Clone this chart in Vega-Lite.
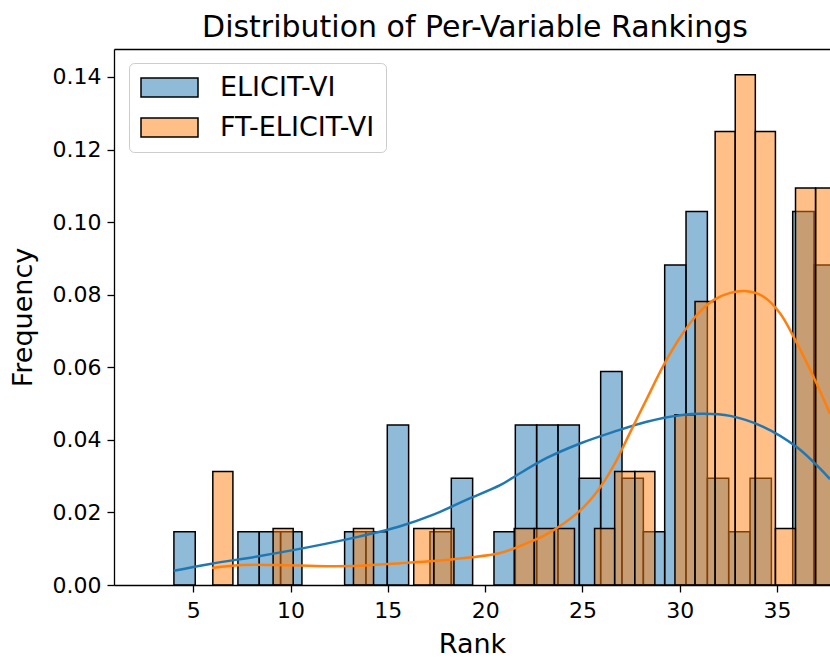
{
  "$schema": "https://vega.github.io/schema/vega-lite/v6.json",
  "width": 716,
  "height": 536,
  "autosize": {"type": "none"},
  "padding": {"left": 114, "top": 49, "right": 0, "bottom": 74},
  "background": "white",
  "title": {"text": "Distribution of Per-Variable Rankings", "font": "DejaVu Sans", "fontSize": 30, "fontWeight": "normal", "color": "black", "anchor": "middle", "dx": 3, "offset": 6},
  "datasets": {
    "bars": [
      {"series": "ELICIT-VI", "bin_start": 4.000, "bin_end": 5.097, "freq": 0.0147},
      {"series": "ELICIT-VI", "bin_start": 7.291, "bin_end": 8.388, "freq": 0.0147},
      {"series": "ELICIT-VI", "bin_start": 8.388, "bin_end": 9.485, "freq": 0.0147},
      {"series": "ELICIT-VI", "bin_start": 9.485, "bin_end": 10.582, "freq": 0.0147},
      {"series": "ELICIT-VI", "bin_start": 12.776, "bin_end": 13.873, "freq": 0.0147},
      {"series": "ELICIT-VI", "bin_start": 13.873, "bin_end": 14.970, "freq": 0.0147},
      {"series": "ELICIT-VI", "bin_start": 14.970, "bin_end": 16.067, "freq": 0.0441},
      {"series": "ELICIT-VI", "bin_start": 17.164, "bin_end": 18.261, "freq": 0.0147},
      {"series": "ELICIT-VI", "bin_start": 18.261, "bin_end": 19.358, "freq": 0.0294},
      {"series": "ELICIT-VI", "bin_start": 20.455, "bin_end": 21.552, "freq": 0.0147},
      {"series": "ELICIT-VI", "bin_start": 21.552, "bin_end": 22.649, "freq": 0.0441},
      {"series": "ELICIT-VI", "bin_start": 22.649, "bin_end": 23.746, "freq": 0.0441},
      {"series": "ELICIT-VI", "bin_start": 23.746, "bin_end": 24.843, "freq": 0.0441},
      {"series": "ELICIT-VI", "bin_start": 24.843, "bin_end": 25.940, "freq": 0.0294},
      {"series": "ELICIT-VI", "bin_start": 25.940, "bin_end": 27.037, "freq": 0.0588},
      {"series": "ELICIT-VI", "bin_start": 27.037, "bin_end": 28.134, "freq": 0.0294},
      {"series": "ELICIT-VI", "bin_start": 28.134, "bin_end": 29.231, "freq": 0.0147},
      {"series": "ELICIT-VI", "bin_start": 29.231, "bin_end": 30.328, "freq": 0.0882},
      {"series": "ELICIT-VI", "bin_start": 30.328, "bin_end": 31.425, "freq": 0.1029},
      {"series": "ELICIT-VI", "bin_start": 31.425, "bin_end": 32.522, "freq": 0.0294},
      {"series": "ELICIT-VI", "bin_start": 32.522, "bin_end": 33.619, "freq": 0.0147},
      {"series": "ELICIT-VI", "bin_start": 33.619, "bin_end": 34.716, "freq": 0.0294},
      {"series": "ELICIT-VI", "bin_start": 35.813, "bin_end": 36.910, "freq": 0.1029},
      {"series": "ELICIT-VI", "bin_start": 36.910, "bin_end": 38.007, "freq": 0.0882},
      {"series": "FT-ELICIT-VI", "bin_start": 6.000, "bin_end": 7.033, "freq": 0.03125},
      {"series": "FT-ELICIT-VI", "bin_start": 9.099, "bin_end": 10.132, "freq": 0.0156},
      {"series": "FT-ELICIT-VI", "bin_start": 13.231, "bin_end": 14.264, "freq": 0.0156},
      {"series": "FT-ELICIT-VI", "bin_start": 16.330, "bin_end": 17.363, "freq": 0.0156},
      {"series": "FT-ELICIT-VI", "bin_start": 17.363, "bin_end": 18.396, "freq": 0.0156},
      {"series": "FT-ELICIT-VI", "bin_start": 21.495, "bin_end": 22.528, "freq": 0.0156},
      {"series": "FT-ELICIT-VI", "bin_start": 22.528, "bin_end": 23.561, "freq": 0.0156},
      {"series": "FT-ELICIT-VI", "bin_start": 23.561, "bin_end": 24.594, "freq": 0.0156},
      {"series": "FT-ELICIT-VI", "bin_start": 25.627, "bin_end": 26.660, "freq": 0.0156},
      {"series": "FT-ELICIT-VI", "bin_start": 26.660, "bin_end": 27.693, "freq": 0.03125},
      {"series": "FT-ELICIT-VI", "bin_start": 27.693, "bin_end": 28.726, "freq": 0.03125},
      {"series": "FT-ELICIT-VI", "bin_start": 29.759, "bin_end": 30.792, "freq": 0.0469},
      {"series": "FT-ELICIT-VI", "bin_start": 30.792, "bin_end": 31.825, "freq": 0.0781},
      {"series": "FT-ELICIT-VI", "bin_start": 31.825, "bin_end": 32.858, "freq": 0.125},
      {"series": "FT-ELICIT-VI", "bin_start": 32.858, "bin_end": 33.891, "freq": 0.1406},
      {"series": "FT-ELICIT-VI", "bin_start": 33.891, "bin_end": 34.924, "freq": 0.125},
      {"series": "FT-ELICIT-VI", "bin_start": 34.924, "bin_end": 35.957, "freq": 0.0156},
      {"series": "FT-ELICIT-VI", "bin_start": 35.957, "bin_end": 36.990, "freq": 0.1094},
      {"series": "FT-ELICIT-VI", "bin_start": 36.990, "bin_end": 38.023, "freq": 0.1094}
    ],
    "kde": [
      {"curve": "ELICIT-VI", "rank": 4.0, "density": 0.0039},
      {"curve": "ELICIT-VI", "rank": 5.86, "density": 0.0058},
      {"curve": "ELICIT-VI", "rank": 8.43, "density": 0.0080},
      {"curve": "ELICIT-VI", "rank": 11.0, "density": 0.0105},
      {"curve": "ELICIT-VI", "rank": 13.57, "density": 0.0134},
      {"curve": "ELICIT-VI", "rank": 15.63, "density": 0.0162},
      {"curve": "ELICIT-VI", "rank": 17.34, "density": 0.0194},
      {"curve": "ELICIT-VI", "rank": 19.06, "density": 0.0235},
      {"curve": "ELICIT-VI", "rank": 20.77, "density": 0.0275},
      {"curve": "ELICIT-VI", "rank": 21.46, "density": 0.0297},
      {"curve": "ELICIT-VI", "rank": 23.17, "density": 0.0350},
      {"curve": "ELICIT-VI", "rank": 24.88, "density": 0.0390},
      {"curve": "ELICIT-VI", "rank": 26.6, "density": 0.0422},
      {"curve": "ELICIT-VI", "rank": 28.31, "density": 0.0450},
      {"curve": "ELICIT-VI", "rank": 30.02, "density": 0.0468},
      {"curve": "ELICIT-VI", "rank": 31.2, "density": 0.0472},
      {"curve": "ELICIT-VI", "rank": 32.6, "density": 0.0466},
      {"curve": "ELICIT-VI", "rank": 34.3, "density": 0.0436},
      {"curve": "ELICIT-VI", "rank": 36.02, "density": 0.0380},
      {"curve": "ELICIT-VI", "rank": 37.73, "density": 0.0292},
      {"curve": "FT-ELICIT-VI", "rank": 5.95, "density": 0.0047},
      {"curve": "FT-ELICIT-VI", "rank": 7.57, "density": 0.0055},
      {"curve": "FT-ELICIT-VI", "rank": 9.29, "density": 0.0055},
      {"curve": "FT-ELICIT-VI", "rank": 11.86, "density": 0.0052},
      {"curve": "FT-ELICIT-VI", "rank": 13.57, "density": 0.0053},
      {"curve": "FT-ELICIT-VI", "rank": 15.63, "density": 0.0060},
      {"curve": "FT-ELICIT-VI", "rank": 17.34, "density": 0.0066},
      {"curve": "FT-ELICIT-VI", "rank": 19.06, "density": 0.0075},
      {"curve": "FT-ELICIT-VI", "rank": 20.77, "density": 0.0088},
      {"curve": "FT-ELICIT-VI", "rank": 22.0, "density": 0.0112},
      {"curve": "FT-ELICIT-VI", "rank": 23.17, "density": 0.0140},
      {"curve": "FT-ELICIT-VI", "rank": 24.88, "density": 0.0205},
      {"curve": "FT-ELICIT-VI", "rank": 25.74, "density": 0.0256},
      {"curve": "FT-ELICIT-VI", "rank": 26.6, "density": 0.0328},
      {"curve": "FT-ELICIT-VI", "rank": 27.45, "density": 0.0420},
      {"curve": "FT-ELICIT-VI", "rank": 28.31, "density": 0.0513},
      {"curve": "FT-ELICIT-VI", "rank": 29.17, "density": 0.0605},
      {"curve": "FT-ELICIT-VI", "rank": 30.02, "density": 0.0682},
      {"curve": "FT-ELICIT-VI", "rank": 30.88, "density": 0.0744},
      {"curve": "FT-ELICIT-VI", "rank": 31.74, "density": 0.0785},
      {"curve": "FT-ELICIT-VI", "rank": 32.6, "density": 0.0805},
      {"curve": "FT-ELICIT-VI", "rank": 33.37, "density": 0.0810},
      {"curve": "FT-ELICIT-VI", "rank": 34.3, "density": 0.0795},
      {"curve": "FT-ELICIT-VI", "rank": 35.16, "density": 0.0749},
      {"curve": "FT-ELICIT-VI", "rank": 36.02, "density": 0.0667},
      {"curve": "FT-ELICIT-VI", "rank": 36.88, "density": 0.0574},
      {"curve": "FT-ELICIT-VI", "rank": 37.73, "density": 0.0472}
    ]
  },
  "layer": [
    {
      "data": {"name": "bars"},
      "mark": {"type": "bar", "clip": true, "fillOpacity": 0.5, "stroke": "black", "strokeWidth": 1.5, "strokeOpacity": 1},
      "encoding": {
        "x": {"field": "bin_start", "type": "quantitative", "scale": {"domain": [0.92, 37.73], "nice": false, "zero": false},
              "axis": {"values": [5, 10, 15, 20, 25, 30, 35], "title": "Rank", "labelPadding": 8, "titlePadding": 10}},
        "x2": {"field": "bin_end"},
        "y": {"field": "freq", "type": "quantitative", "scale": {"domain": [0, 0.1477], "nice": false, "zero": true},
              "axis": {"values": [0, 0.02, 0.04, 0.06, 0.08, 0.1, 0.12, 0.14], "format": ".2f", "title": "Frequency", "labelPadding": 6, "titlePadding": 15}},
        "y2": {"datum": 0},
        "fill": {"field": "series", "type": "nominal", "scale": {"domain": ["ELICIT-VI", "FT-ELICIT-VI"], "range": ["#1f77b4", "#ff7f0e"]},
                  "legend": {"title": null, "orient": "none", "legendX": 15, "legendY": 14, "direction": "vertical",
                             "symbolType": "M-1,-0.76H3.56V0.76H-1Z", "symbolSize": 625, "labelFontSize": 27, "labelFont": "DejaVu Sans", "labelColor": "black", "labelOffset": 53, "rowPadding": 12,
                             "padding": 11, "fillColor": "rgba(255,255,255,0.8)", "strokeColor": "#cccccc", "cornerRadius": 5,
                             "symbolStrokeColor": "black", "symbolStrokeWidth": 1.5,
                             "encode": {"symbols": {"update": {"fillOpacity": {"value": 0.5}, "stroke": {"value": "black"}, "strokeWidth": {"value": 1.5}, "strokeOpacity": {"value": 1}, "opacity": {"value": 1}}}}}},
        "order": {"field": "series", "type": "nominal"}
      }
    },
    {
      "data": {"name": "kde"},
      "mark": {"type": "line", "clip": true, "strokeWidth": 2.5, "interpolate": "catmull-rom"},
      "encoding": {
        "x": {"field": "rank", "type": "quantitative", "axis": {"orient": "top", "labels": false, "ticks": false, "title": null, "domain": true}},
        "y": {"field": "density", "type": "quantitative"},
        "stroke": {"field": "curve", "type": "nominal", "scale": {"domain": ["ELICIT-VI", "FT-ELICIT-VI"], "range": ["#1f77b4", "#ff7f0e"]}, "legend": null}
      }
    }
  ],
  "resolve": {"axis": {"x": "independent"}, "scale": {"stroke": "independent"}},
  "config": {
    "view": {"stroke": null},
    "axis": {"labelFont": "DejaVu Sans", "titleFont": "DejaVu Sans", "labelColor": "black", "titleColor": "black", "domainColor": "black", "tickColor": "black", "domainWidth": 1.3, "tickWidth": 1.3, "tickSize": 7, "grid": false, "labelFontSize": 22, "titleFontSize": 27, "titleFontWeight": "normal"}
  }
}
